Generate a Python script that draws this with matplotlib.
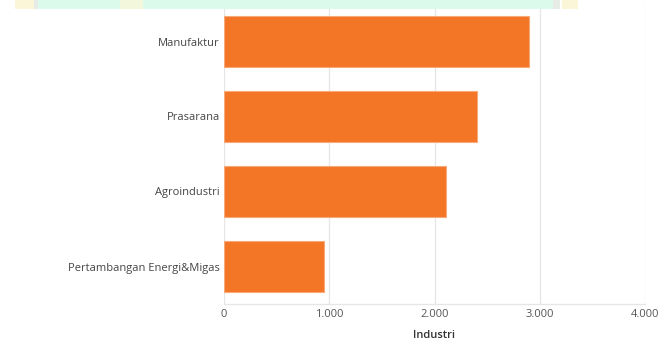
import matplotlib.pyplot as plt
from matplotlib.patches import Rectangle

# Jumlah per sektor industri
sectors = ["Manufaktur", "Prasarana", "Agroindustri", "Pertambangan Energi&Migas"]
values = [2900, 2405, 2105, 950]
x_ticks = [0, 1000, 2000, 3000, 4000]
x_tick_labels = ["0", "1.000", "2.000", "3.000", "4.000"]

W, H = 659, 343
fig = plt.figure(figsize=(W / 100, H / 100), dpi=100)
plt.rcParams['font.family'] = ['Open Sans', 'DejaVu Sans']


def strip(x0, x1, color):
    # strip of page background above the white card
    fig.patches.append(Rectangle((x0 / W, 1 - 9 / H), (x1 - x0) / W, 9 / H,
                                 transform=fig.transFigure, facecolor=color,
                                 edgecolor='none', zorder=0))


strip(38, 553, '#dcfaec')
strip(15, 34, '#fbf6d8')
strip(120, 143, '#f3f8dc')
strip(34, 38, '#e8ece6')
strip(553, 560, '#e8ece6')
strip(562, 578, '#fbf6d8')

ax = fig.add_axes([224 / W, 1 - 304 / H, (645 - 224) / W, (304 - 4) / H])
ax.patch.set_alpha(0)

y = list(range(len(sectors)))
ax.barh(y, values, height=0.69, color='#f37526', edgecolor='#f9a878', linewidth=0.8, zorder=3)

ax.set_xlim(0, 4000)
ax.set_ylim(len(sectors) - 0.5, -0.5)
ax.set_xticks(x_ticks)
ax.set_xticklabels(x_tick_labels, fontsize=8, color='#555555')
ax.set_yticks(y)
ax.set_yticklabels(sectors, fontsize=8, color='#444444')
ax.tick_params(axis='both', length=0)
ax.tick_params(axis='x', pad=3.5)
ax.tick_params(axis='y', pad=3)

ax.grid(axis='x', color='#e6e6e6', linewidth=0.9, zorder=0)
for side in ['top', 'right', 'left']:
    ax.spines[side].set_visible(False)
ax.spines['bottom'].set_color('#e6e6e6')
ax.spines['bottom'].set_linewidth(0.9)

ax.set_xlabel('Industri', fontsize=8, color='#333333', fontweight='semibold', labelpad=7)

fig.savefig('out.png', dpi=100)
